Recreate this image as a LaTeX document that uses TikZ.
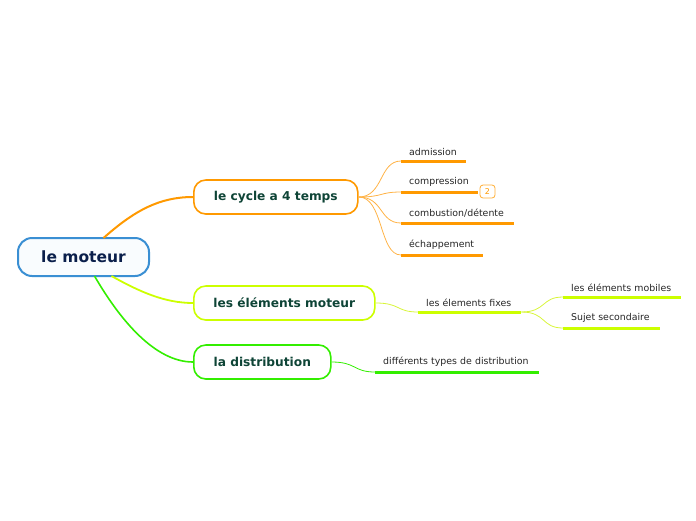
\documentclass[tikz,border=0pt]{standalone}
\usepackage{fontspec}
\setmainfont{DejaVu Sans}
\usetikzlibrary{calc}
\definecolor{cblue}{HTML}{3A8FD3}
\definecolor{corange}{HTML}{FF9900}
\definecolor{corangel}{HTML}{FFB347}
\definecolor{cyellow}{HTML}{CCFF00}
\definecolor{cyellowl}{HTML}{D8F53A}
\definecolor{cgreen}{HTML}{33EE00}
\definecolor{ctext}{HTML}{0E4436}
\definecolor{croot}{HTML}{0B1F4B}
\begin{document}
\begin{tikzpicture}[x=1pt,y=-1pt,
  rootbox/.style={draw=cblue, line width=2pt, fill=cblue!3, rounded corners=14pt,
    minimum width=131pt, minimum height=38pt, font=\fontsize{15.5}{18}\selectfont\bfseries, text=croot},
  mainbox/.style={line width=1.6pt, fill=white, rounded corners=12pt, minimum height=34pt,
    font=\fontsize{12.2}{15}\selectfont\bfseries, text=ctext, anchor=west},
  subnode/.style={anchor=south west, inner xsep=8pt, inner ysep=5pt, align=left,
    font=\fontsize{9.4}{11}\selectfont, text=black!85},
  uline/.style={line width=3pt},
  thin/.style={line width=0.8pt}
]
\useasboundingbox (0,0) rectangle (696,520);
% root
\node[rootbox] (root) at (83.5,257) {le moteur};
% main topics
\node[mainbox, draw=corange, minimum width=164pt] (cyc) at (193,197) {le cycle a 4 temps};
\node[mainbox, draw=cyellow, minimum width=181pt] (elm) at (193,303) {les éléments moteur};
\node[mainbox, draw=cgreen, minimum width=137pt] (dis) at (193,362) {la distribution};
% root connectors
\coordinate (ro) at ($(root.north)+(20,1)$);
\coordinate (ry) at ($(root.south)+(28,-1)$);
\coordinate (rg) at ($(root.south)+(11,-1)$);
\draw[corange, line width=2pt] (ro) .. controls (135,210) and (160,197) .. (cyc.west);
\draw[cyellow, line width=1.8pt] (ry) .. controls (140,292) and (165,303) .. (elm.west);
\draw[cgreen, line width=1.6pt] (rg) .. controls (120,320) and (155,362) .. (dis.west);
% cycle subs
\node[subnode, text width=49pt] (adm) at (401,161) {admission};
\node[subnode, text width=61pt] (cmp) at (401,192) {compression};
\node[subnode, text width=97pt] (cmb) at (401,223) {combustion/détente};
\node[subnode, text width=66pt] (ech) at (401,255) {échappement};
\foreach \n in {adm,cmp,cmb,ech}{
  \draw[corange, uline] (\n.south west) -- (\n.south east);
  \draw[corangel, thin] (cyc.east) .. controls +(25,0) and +(-22,0) .. (\n.south west);
}
\node[draw=corange!80, line width=0.8pt, rounded corners=3pt, text=corange, font=\fontsize{8}{9}\selectfont,
  minimum width=15pt, minimum height=13pt, inner sep=0pt] (badge) at (487.5,191.5) {2};
% elements moteur
\node[subnode, text width=87pt] (fix) at (418,312) {les élements fixes};
\draw[cyellow, uline] (fix.south west) -- (fix.south east);
\draw[cyellowl, thin] (elm.east) .. controls +(25,0) and +(-22,0) .. (fix.south west);
\node[subnode, text width=102pt] (mob) at (563,297) {les éléments mobiles};
\node[subnode, text width=81pt] (sec) at (563,328) {Sujet secondaire};
\foreach \n in {mob,sec}{
  \draw[cyellow, uline] (\n.south west) -- (\n.south east);
  \draw[cyellowl, thin] (fix.south east) .. controls +(25,0) and +(-22,0) .. (\n.south west);
}
% distribution
\node[subnode, text width=148pt] (typ) at (375,372) {différents types de distribution};
\draw[cgreen, uline] (typ.south west) -- (typ.south east);
\draw[cgreen, thin] (dis.east) .. controls +(25,0) and +(-22,0) .. (typ.south west);
\end{tikzpicture}
\end{document}
